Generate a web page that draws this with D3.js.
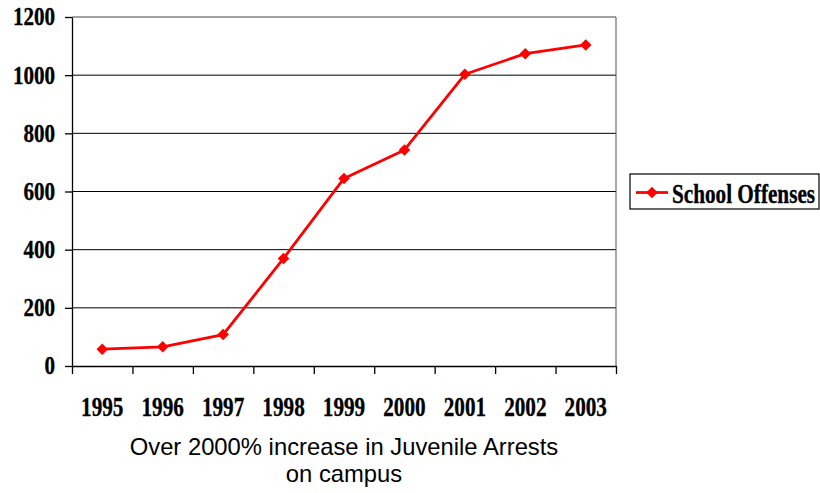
<!DOCTYPE html>
<html lang="en">
<head>
    <meta charset="UTF-8">
    <title>School Offenses 1995-2003</title>
    <script src="https://d3js.org/d3.v7.min.js"></script>
    <style>
        body {
            margin: 0;
            background: #fff;
        }
        .serif text, text.serif {
            font-family: "Liberation Serif", "Times New Roman", serif;
            font-weight: bold;
            fill: #000;
            stroke: #000;
            stroke-width: 0.35px;
        }
        .caption {
            font-family: "Liberation Sans", Arial, sans-serif;
            font-size: 23.8px;
            fill: #000;
        }
    </style>
</head>
<body>
    <svg id="chart" width="820" height="493"></svg>

    <script>
        // Data
        const years = ["1995", "1996", "1997", "1998", "1999", "2000", "2001", "2002", "2003"];
        const schoolOffenses = [58, 66, 108, 370, 645, 743, 1003, 1074, 1104];
        const yTicks = [0, 200, 400, 600, 800, 1000, 1200];
        const seriesName = "School Offenses";
        const captionLines = ["Over 2000% increase in Juvenile Arrests", "on campus"];

        const plot = { left: 72, right: 616, top: 17, bottom: 366 };

        const svg = d3.select("#chart");

        // Scales
        const xBand = d3.scaleBand()
            .domain(years)
            .range([plot.left, plot.right])
            .padding(0);

        const xEdge = d3.scaleLinear()
            .domain([0, years.length])
            .range([plot.left, plot.right]);

        const yScale = d3.scaleLinear()
            .domain([0, 1200])
            .range([plot.bottom, plot.top]);

        // Gridlines
        svg.append("g")
            .selectAll("line")
            .data(yTicks.filter(d => d > 0))
            .enter()
            .append("line")
            .attr("x1", plot.left)
            .attr("x2", plot.right)
            .attr("y1", d => yScale(d))
            .attr("y2", d => yScale(d))
            .attr("stroke", d => d === 1200 ? "#444" : "#000")
            .attr("stroke-width", 1);

        // Right frame
        svg.append("line")
            .attr("x1", plot.right)
            .attr("x2", plot.right)
            .attr("y1", plot.top)
            .attr("y2", plot.bottom)
            .attr("stroke", "#555")
            .attr("stroke-width", 1);

        // Y axis
        const sy = 0.86;
        const yAxis = svg.append("g")
            .attr("class", "serif")
            .attr("transform", `translate(${plot.left},0)`)
            .call(d3.axisLeft(yScale).tickValues(yTicks).tickFormat(d3.format("d"))
                .tickSize(7).tickPadding(10).tickSizeOuter(0));
        yAxis.selectAll("path, line").attr("stroke", "#000").attr("stroke-width", 1.3);
        yAxis.selectAll("text")
            .attr("font-size", 24.5)
            .attr("x", -17 / sy)
            .attr("transform", `scale(${sy},1)`);

        // X axis: ticks on category edges
        const xAxisTicks = svg.append("g")
            .attr("transform", `translate(0,${plot.bottom})`)
            .call(d3.axisBottom(xEdge).tickValues(d3.range(years.length + 1)).tickFormat("").tickSize(8).tickSizeOuter(0));
        xAxisTicks.selectAll("path, line").attr("stroke", "#000").attr("stroke-width", 1.3);

        // X axis labels at category centres
        const sx = 0.8;
        const xLabels = svg.append("g")
            .attr("class", "serif")
            .attr("transform", `translate(0,${plot.bottom})`)
            .call(d3.axisBottom(xBand).tickSize(0).tickPadding(31));
        xLabels.select(".domain").remove();
        xLabels.selectAll("text")
            .attr("font-size", 26.5)
            .attr("transform", `scale(${sx},1)`);

        // Line
        const points = years.map((y, i) => ({ year: y, value: schoolOffenses[i] }));
        const line = d3.line()
            .x(d => xBand(d.year) + xBand.bandwidth() / 2)
            .y(d => yScale(d.value));

        svg.append("path")
            .datum(points)
            .attr("fill", "none")
            .attr("stroke", "#ff0000")
            .attr("stroke-width", 2.8)
            .attr("stroke-linejoin", "round")
            .attr("d", line);

        const diamond = d3.symbol().type(d3.symbolSquare).size(66);
        svg.append("g")
            .selectAll("path")
            .data(points)
            .enter()
            .append("path")
            .attr("d", diamond)
            .attr("fill", "#ff0000")
            .attr("transform", d => `translate(${xBand(d.year) + xBand.bandwidth() / 2},${yScale(d.value)}) rotate(45)`);

        // Legend
        const legend = svg.append("g").attr("transform", "translate(630,174)");
        legend.append("rect")
            .attr("width", 189)
            .attr("height", 35)
            .attr("fill", "#fff")
            .attr("stroke", "#000")
            .attr("stroke-width", 1.2);
        legend.append("line")
            .attr("x1", 6)
            .attr("x2", 38)
            .attr("y1", 18.5)
            .attr("y2", 18.5)
            .attr("stroke", "#ff0000")
            .attr("stroke-width", 2.8);
        legend.append("path")
            .attr("d", diamond)
            .attr("fill", "#ff0000")
            .attr("transform", "translate(22,18.5) rotate(45)");
        legend.append("text")
            .attr("class", "serif")
            .attr("font-size", 26.5)
            .attr("transform", "translate(42,29) scale(0.8,1)")
            .text(seriesName);

        // Caption
        svg.append("g")
            .selectAll("text")
            .data(captionLines)
            .enter()
            .append("text")
            .attr("class", "caption")
            .attr("x", 344)
            .attr("y", (d, i) => 455 + i * 26.5)
            .attr("text-anchor", "middle")
            .text(d => d);
    </script>
</body>
</html>
